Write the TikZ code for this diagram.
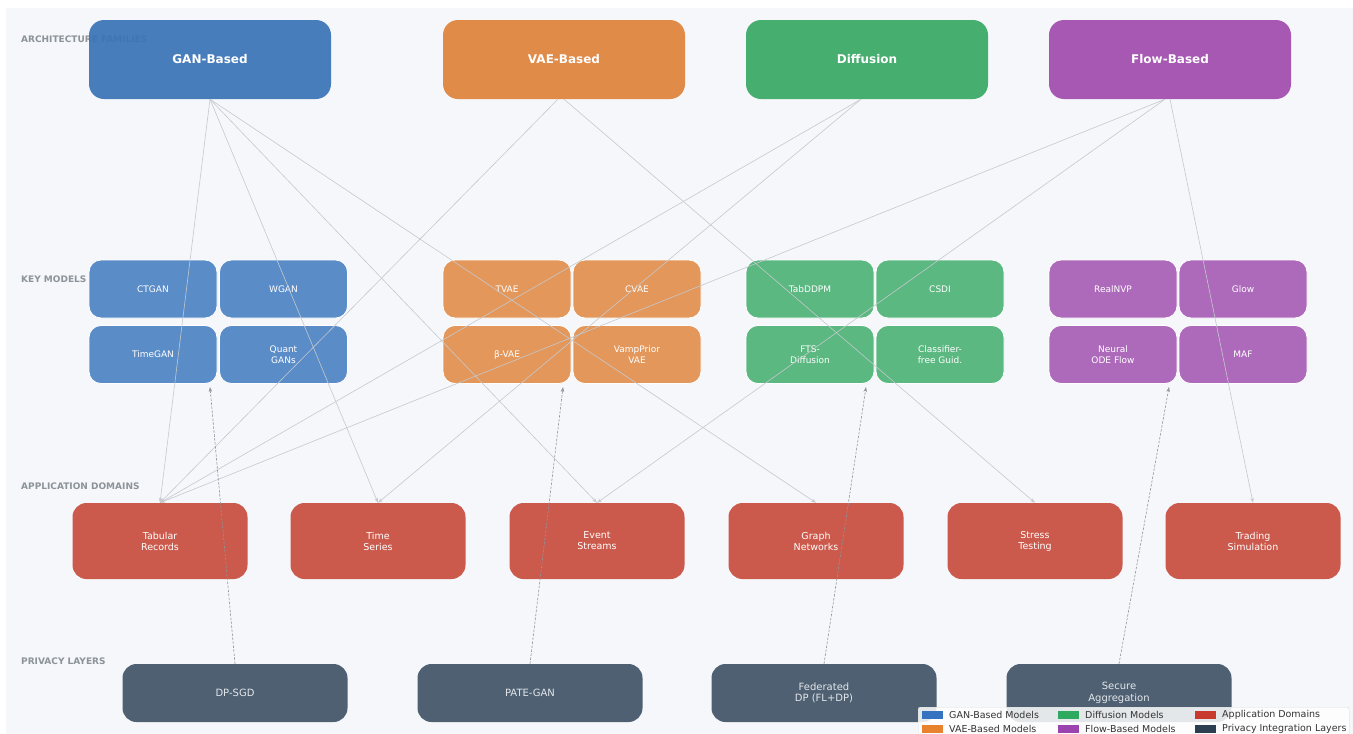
\documentclass[tikz,border=0pt]{standalone}
\usepackage{fontspec}
\setmainfont{DejaVu Sans}
\usetikzlibrary{arrows.meta}
\definecolor{pagebg}{HTML}{F5F7FA}
\definecolor{seclabel}{HTML}{8C9399}
\definecolor{ganfam}{HTML}{3A73B6}
\definecolor{vaefam}{HTML}{E0823A}
\definecolor{difffam}{HTML}{38A863}
\definecolor{flowfam}{HTML}{A04BAD}
\definecolor{ganmod}{HTML}{5287C6}
\definecolor{vaemod}{HTML}{E39253}
\definecolor{diffmod}{HTML}{52B57A}
\definecolor{flowmod}{HTML}{AA62B7}
\definecolor{appred}{HTML}{CB5A4C}
\definecolor{privslate}{HTML}{4E6072}
\definecolor{linkgray}{HTML}{C5C9CE}
\definecolor{dashgray}{HTML}{8E959C}
\definecolor{lgblue}{HTML}{3572C0}
\definecolor{lgorange}{HTML}{E8822F}
\definecolor{lggreen}{HTML}{2EAA60}
\definecolor{lgpurple}{HTML}{9B44B0}
\definecolor{lgred}{HTML}{C8392E}
\definecolor{lgnavy}{HTML}{2D3E50}

\tikzset{
  famnode/.style={rounded corners=15pt, minimum width=242pt, minimum height=79pt,
    fill opacity=0.92, text opacity=1, text=white, font=\fontsize{12}{14}\selectfont\bfseries},
  modnode/.style={rounded corners=12pt, minimum width=128pt, minimum height=58pt,
    draw=white, line width=0.8pt, fill opacity=0.95, text opacity=1, text=white,
    align=center, font=\fontsize{9}{11}\selectfont},
  appnode/.style={rounded corners=14pt, minimum width=175pt, minimum height=76pt,
    fill=appred, text=white, align=center, font=\fontsize{9.5}{11}\selectfont},
  privnode/.style={rounded corners=14pt, minimum width=225pt, minimum height=58pt,
    fill=privslate, text=white!85!privslate, align=center, font=\fontsize{10}{11.5}\selectfont},
  seclbl/.style={anchor=west, inner sep=0pt, text=seclabel, font=\fontsize{9}{10}\selectfont\bfseries},
  link/.style={draw=linkgray, line width=0.6pt, -{Stealth[length=5pt, width=3.5pt]}},
  privlink/.style={draw=dashgray, line width=0.6pt, dash pattern=on 2.5pt off 1.5pt,
    -{Stealth[length=5pt, width=3.5pt]}},
  lgpatch/.style={minimum width=21pt, minimum height=8pt, inner sep=0pt},
  lgtext/.style={anchor=west, font=\fontsize{9.5}{10}\selectfont, text=black!80}
}

\begin{document}
\begin{tikzpicture}[x=1pt, y=-1pt]
  \useasboundingbox (0,0) rectangle (1353,734);
  \fill[white] (0,0) rectangle (1353,734);
  \fill[pagebg] (6,8) rectangle (1353,734);

  % row captions
  \node[seclbl] (capfam) at (21,39) {ARCHITECTURE FAMILIES};
  \node[seclbl] (capmod) at (21,279) {KEY MODELS};
  \node[seclbl] (capapp) at (21,486) {APPLICATION DOMAINS};
  \node[seclbl] (capprv) at (21,661) {PRIVACY LAYERS};

  % architecture families
  \node[famnode, fill=ganfam] (gan) at (210,59.5) {GAN-Based};
  \node[famnode, fill=vaefam] (vae) at (564,59.5) {VAE-Based};
  \node[famnode, fill=difffam] (diff) at (867,59.5) {Diffusion};
  \node[famnode, fill=flowfam] (flow) at (1170,59.5) {Flow-Based};

  % key models
  \node[modnode, fill=ganmod] (ctgan) at (153,289) {CTGAN};
  \node[modnode, fill=ganmod] (wgan) at (283.5,289) {WGAN};
  \node[modnode, fill=ganmod] (timegan) at (153,354.5) {TimeGAN};
  \node[modnode, fill=ganmod] (quantgan) at (283.5,354.5) {Quant\\GANs};
  \node[modnode, fill=vaemod] (tvae) at (507,289) {TVAE};
  \node[modnode, fill=vaemod] (cvae) at (637,289) {CVAE};
  \node[modnode, fill=vaemod] (betavae) at (507,354.5) {β-VAE};
  \node[modnode, fill=vaemod] (vampvae) at (637,354.5) {VampPrior\\VAE};
  \node[modnode, fill=diffmod] (tabddpm) at (810,289) {TabDDPM};
  \node[modnode, fill=diffmod] (csdi) at (940,289) {CSDI};
  \node[modnode, fill=diffmod] (ftsdiff) at (810,354.5) {FTS-\\Diffusion};
  \node[modnode, fill=diffmod] (cfguid) at (940,354.5) {Classifier-\\free Guid.};
  \node[modnode, fill=flowmod] (realnvp) at (1113,289) {RealNVP};
  \node[modnode, fill=flowmod] (glow) at (1243,289) {Glow};
  \node[modnode, fill=flowmod] (odeflow) at (1113,354.5) {Neural\\ODE Flow};
  \node[modnode, fill=flowmod] (maf) at (1243,354.5) {MAF};

  % application domains
  \node[appnode] (tabular) at (160,541) {Tabular\\Records};
  \node[appnode] (timeser) at (378,541) {Time\\Series};
  \node[appnode] (events) at (597,541) {Event\\Streams};
  \node[appnode] (graphs) at (816,541) {Graph\\Networks};
  \node[appnode] (stress) at (1035,541) {Stress\\Testing};
  \node[appnode] (trading) at (1253,541) {Trading\\Simulation};

  % privacy layers
  \node[privnode] (dpsgd) at (235,693) {DP-SGD};
  \node[privnode] (pategan) at (530,693) {PATE-GAN};
  \node[privnode] (fedlrn) at (824,693) {Federated\\DP (FL+DP)};
  \node[privnode] (secagg) at (1119,693) {Secure\\Aggregation};

  % family -> domain links
  \draw[link] (gan.south) -- (tabular.north);
  \draw[link] (gan.south) -- (timeser.north);
  \draw[link] (gan.south) -- (events.north);
  \draw[link] (gan.south) -- (graphs.north);
  \draw[link] ([xshift=-6pt]vae.south) -- (tabular.north);
  \draw[link] (vae.south) -- (stress.north);
  \draw[link] ([xshift=-6pt]diff.south) -- (tabular.north);
  \draw[link] ([xshift=-6pt]diff.south) -- (timeser.north);
  \draw[link] ([xshift=-5pt]flow.south) -- (tabular.north);
  \draw[link] ([xshift=-5pt]flow.south) -- (events.north);
  \draw[link] (flow.south) -- (trading.north);

  % privacy -> family links
  \coordinate (ganfoot) at (210,387);
  \coordinate (vaefoot) at (563,387);
  \coordinate (difffoot) at (866,387);
  \coordinate (flowfoot) at (1169,387);
  \draw[privlink] (dpsgd.north) -- (ganfoot);
  \draw[privlink] (pategan.north) -- (vaefoot);
  \draw[privlink] (fedlrn.north) -- (difffoot);
  \draw[privlink] (secagg.north) -- (flowfoot);

  % legend
  \node[draw=black!15, fill=white, fill opacity=0.85, rounded corners=2pt,
        minimum width=431pt, minimum height=34pt, anchor=north west] (legendbox) at (918,707) {};
  \node[lgpatch, fill=lgblue] (lg1) at (932,715) {};
  \node[lgtext] (lt1) at ([xshift=3pt]lg1.east) {GAN-Based Models};
  \node[lgpatch, fill=lgorange] (lg2) at (932,729) {};
  \node[lgtext] (lt2) at ([xshift=3pt]lg2.east) {VAE-Based Models};
  \node[lgpatch, fill=lggreen] (lg3) at (1068,715) {};
  \node[lgtext] (lt3) at ([xshift=3pt]lg3.east) {Diffusion Models};
  \node[lgpatch, fill=lgpurple] (lg4) at (1068,729) {};
  \node[lgtext] (lt4) at ([xshift=3pt]lg4.east) {Flow-Based Models};
  \node[lgpatch, fill=lgred] (lg5) at (1205,715) {};
  \node[lgtext] (lt5) at ([xshift=3pt]lg5.east) {Application Domains};
  \node[lgpatch, fill=lgnavy] (lg6) at (1205,729) {};
  \node[lgtext] (lt6) at ([xshift=3pt]lg6.east) {Privacy Integration Layers};
\end{tikzpicture}
\end{document}
